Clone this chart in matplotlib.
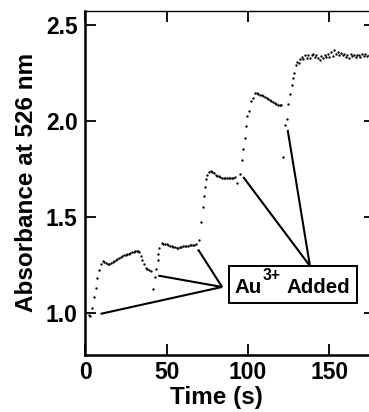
import matplotlib
matplotlib.use("Agg")
import matplotlib.pyplot as plt
from matplotlib.patches import Rectangle
from matplotlib.transforms import Bbox

plt.rcParams['font.family'] = ['Liberation Sans', 'DejaVu Sans']
plt.rcParams['font.weight'] = 'bold'

# ---- data (time in s, absorbance at 526 nm) ----
time_s = [2, 3, 3.9, 5.1, 6.5, 7.2, 8.6, 9.6, 10.6, 11.5, 12.5, 13.7, 14.7, 15.7, 16.7,
          17.7, 18.7, 19.7, 20.7, 21.7, 22.7, 23.7, 24.7, 25.7, 26.7, 27.7, 28.7, 29.7,
          30.7, 31.5, 32.3, 33.2, 34, 35, 36, 37, 38, 39.3, 40.3,
          41.7, 42.7, 43.4, 44.4, 44.8, 45.4, 46.8, 48, 49, 50, 51, 52, 53, 54, 55, 56,
          57, 58, 59, 60, 61, 62, 63, 64, 65, 66, 67, 68, 69.2,
          69.8, 71, 72, 72.6, 73.4, 74.2, 75, 76, 77, 78, 79, 80, 81, 82, 83, 84, 85,
          86, 87, 88, 89, 90, 91, 92.2,
          93.4, 94.9, 96, 97, 97.8, 99, 99.6, 100.6, 101.6, 103, 104.3, 105.3, 106.3,
          107.3, 108.3, 109.3, 110.3, 111.3, 112.3, 113.3, 114.3, 115.3, 116.3, 117.3,
          118.3, 119.3, 120.4,
          121.5, 122.7, 123.7, 124.7, 125.6, 126.8, 127.6, 128.2, 129.3, 130.2,
          131, 132, 133, 134, 135, 136, 137, 138, 139, 140, 141, 142, 143, 144, 145,
          146, 147, 148, 149, 150, 151, 152, 153, 154, 155, 156, 157, 158, 159, 160,
          161, 162, 163, 164, 165, 166, 167, 168, 169, 170, 171, 172, 173, 174]

absorbance = [0.99, 0.985, 1.028, 1.085, 1.133, 1.185, 1.227, 1.254, 1.27, 1.268, 1.262, 1.254, 1.258, 1.263, 1.268,
              1.273, 1.278, 1.283, 1.288, 1.293, 1.297, 1.301, 1.305, 1.308, 1.311, 1.314, 1.317, 1.32,
              1.322, 1.323, 1.322, 1.318, 1.297, 1.275, 1.254, 1.237, 1.23, 1.225, 1.218,
              1.128, 1.188, 1.232, 1.275, 1.31, 1.339, 1.365, 1.363, 1.361, 1.358, 1.355, 1.352, 1.349, 1.346, 1.343, 1.341,
              1.342, 1.344, 1.346, 1.348, 1.35, 1.351, 1.352, 1.353, 1.354, 1.355, 1.357, 1.36, 1.33,
              1.379, 1.474, 1.555, 1.612, 1.659, 1.697, 1.72, 1.735, 1.738, 1.735, 1.729, 1.722, 1.716, 1.712, 1.709, 1.706, 1.704,
              1.703, 1.702, 1.702, 1.703, 1.704, 1.705, 1.707,
              1.68, 1.727, 1.80, 1.855, 1.912, 1.976, 2.024, 2.053, 2.105, 2.122, 2.145, 2.145, 2.142,
              2.138, 2.133, 2.128, 2.123, 2.118, 2.113, 2.108, 2.103, 2.098, 2.093, 2.088,
              2.085, 2.084, 2.085,
              1.811, 1.979, 2.013, 2.091, 2.14, 2.185, 2.226, 2.252, 2.292, 2.309,
              2.30, 2.325, 2.335, 2.325, 2.342, 2.33, 2.345, 2.328, 2.342, 2.35, 2.334, 2.345, 2.33, 2.316, 2.339,
              2.33, 2.345, 2.335, 2.35, 2.334, 2.36, 2.34, 2.368, 2.35, 2.36, 2.342, 2.355, 2.345, 2.35, 2.335,
              2.345, 2.33, 2.35, 2.34, 2.345, 2.334, 2.342, 2.345, 2.335, 2.35, 2.34, 2.35, 2.34, 2.345]

x_ticks = [0, 50, 100, 150]
y_ticks = [1.0, 1.5, 2.0, 2.5]
y_tick_labels = ["1.0", "1.5", "2.0", "2.5"]

# annotation: label text pieces, baseline anchor and pointer targets (data coords)
label_main = "Au"
label_sup = "3+"
label_rest = "Added"
label_anchor = (91.9, 1.104)
hub_left = (84, 1.137)
targets_left = [(9.3, 0.997), (44.8, 1.196), (69.4, 1.33)]
hub_top = (138, 1.246)
targets_top = [(97, 1.709), (124.3, 1.954)]

fig = plt.figure(figsize=(3.69, 4.12), dpi=100)
ax = fig.add_axes([0.2314, 0.1383, 0.785, 0.8357])

ax.plot(time_s, absorbance, linestyle='none', marker='o', ms=1.7,
        mec='black', mfc='black', mew=0.0, color='black', clip_on=False)

for tx, ty in targets_left:
    ax.plot([hub_left[0], tx], [hub_left[1], ty], color='black', lw=1.5, solid_capstyle='butt')
for tx, ty in targets_top:
    ax.plot([hub_top[0], tx], [hub_top[1], ty], color='black', lw=1.5, solid_capstyle='butt')

t1 = ax.text(label_anchor[0], label_anchor[1], label_main, ha='left', va='baseline',
             fontsize=14.8, fontweight='bold', zorder=6)
t2 = ax.annotate(label_sup, xy=(1, label_anchor[1]), xycoords=(t1, 'data'),
                 xytext=(0.6, 9.4), textcoords='offset points', ha='left', va='baseline',
                 fontsize=11.3, fontweight='bold', zorder=6)
t3 = ax.annotate(label_rest, xy=(1, label_anchor[1]), xycoords=(t2, 'data'),
                 xytext=(4.2, 0), textcoords='offset points', ha='left', va='baseline',
                 fontsize=14.8, fontweight='bold', zorder=6)

ax.set_xlim(0, 178)
ax.set_ylim(0.783, 2.574)
ax.set_xticks(x_ticks)
ax.set_yticks(y_ticks)
ax.set_yticklabels(y_tick_labels)

ax.tick_params(axis='both', which='major', direction='in', length=7.8, width=1.3,
               labelsize=16.5, pad=5.5, top=True, right=True, color='black')
ax.tick_params(axis='x', pad=4)
for lab in ax.get_xticklabels() + ax.get_yticklabels():
    lab.set_fontweight('bold')

ax.spines['left'].set_linewidth(1.8)
ax.spines['bottom'].set_linewidth(1.8)
ax.spines['top'].set_linewidth(1.0)
ax.spines['right'].set_linewidth(1.0)

ax.set_xlabel("Time (s)", fontsize=17.5, fontweight='bold')
ax.set_ylabel("Absorbance at 526 nm", fontsize=17.5, fontweight='bold')
ax.xaxis.set_label_coords(0.454, -0.09)
ax.yaxis.set_label_coords(-0.165, 0.5)

# frame around the annotation label, sized from the rendered text
fig.canvas.draw()
r = fig.canvas.get_renderer()
b1 = t1.get_window_extent(r)
b3 = t3.get_window_extent(r)
base_px = ax.transData.transform(label_anchor)[1]
box_px = Bbox.from_extents(b1.x0 - 6, base_px - 10, b3.x1 + 7, base_px + 27.5)
box_data = box_px.transformed(ax.transData.inverted())
ax.add_patch(Rectangle((box_data.x0, box_data.y0), box_data.width, box_data.height,
                       fc='white', ec='black', lw=1.4, zorder=5))

fig.savefig("out.png", dpi=100)
